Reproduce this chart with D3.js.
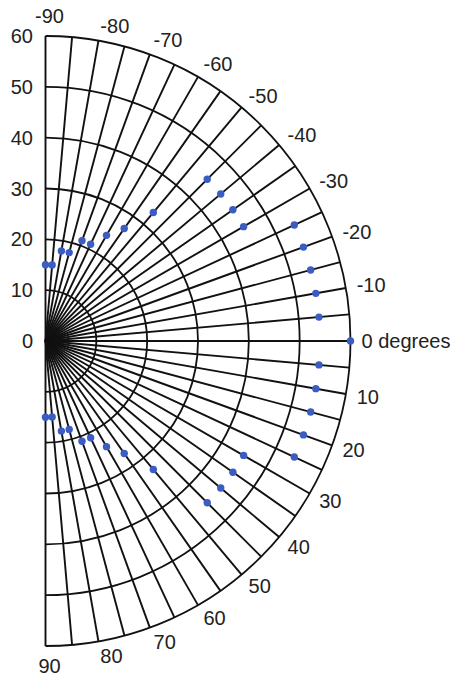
<!DOCTYPE html>
<html>
<head>
<meta charset="utf-8">
<script src="https://cdn.jsdelivr.net/npm/d3@7"></script>
<style>
  body { margin: 0; background: #fff; }
  text { font-family: "Liberation Sans", Arial, sans-serif; font-size: 20px; fill: #222; }
</style>
</head>
<body>
<svg width="456" height="677"></svg>
<script>
// point angles (degrees, 0 = right, -90 = up) and their radial values
var angles = [-90, -85, -80, -75, -70, -65, -60, -55, -50, -45, -40, -35, -30, -25, -20, -15, -10, -5,
              0, 5, 10, 15, 20, 25, 30, 35, 40, 45, 50, 55, 60, 65, 70, 75, 80, 85, 90];
var values = [15, 15, 18, 18, 21, 21, 24, 27, 33, 45, 45, 45, 45, 54, 54, 54, 54, 54,
              60, 54, 54, 54, 54, 54, 45, 45, 45, 45, 33, 27, 24, 21, 21, 18, 18, 15, 15];

var rings = [10, 20, 30, 40, 50, 60];
var radialLabels = [0, 10, 20, 30, 40, 50, 60];
var angleTicks = [-90, -80, -70, -60, -50, -40, -30, -20, -10, 0, 10, 20, 30, 40, 50, 60, 70, 80, 90];
var angleLabels = ["-90", "-80", "-70", "-60", "-50", "-40", "-30", "-20", "-10", "0 degrees",
                   "10", "20", "30", "40", "50", "60", "70", "80", "90"];

var svg = d3.select("svg"),
    cx = 45.5,
    cy = 341,
    R = 305,
    g = svg.append("g").attr("transform", "translate(" + cx + "," + cy + ")");

var r = d3.scaleLinear().domain([0, 60]).range([0, R]);
var a = d3.scaleLinear().domain([-90, 90]).range([-Math.PI / 2, Math.PI / 2]);

// spokes every 5 degrees
g.selectAll(".spoke")
    .data(d3.range(-90, 91, 5))
  .enter().append("line")
    .attr("class", "spoke")
    .attr("x1", 0).attr("y1", 0)
    .attr("x2", function(d) { return r(60) * Math.cos(a(d)); })
    .attr("y2", function(d) { return r(60) * Math.sin(a(d)); })
    .attr("stroke", "#111")
    .attr("stroke-width", 1.9);

// rings
g.selectAll(".ring")
    .data(rings)
  .enter().append("path")
    .attr("class", "ring")
    .attr("d", function(d) {
      var p = d3.path();
      p.arc(0, 0, r(d), -Math.PI / 2, Math.PI / 2);
      return p.toString();
    })
    .attr("fill", "none")
    .attr("stroke", "#111")
    .attr("stroke-width", 1.8);

// points
g.selectAll(".pt")
    .data(angles)
  .enter().append("circle")
    .attr("class", "pt")
    .attr("cx", function(d, i) { return r(values[i]) * Math.cos(a(d)); })
    .attr("cy", function(d, i) { return r(values[i]) * Math.sin(a(d)); })
    .attr("r", 3.7)
    .attr("fill", "#3b5cc0");

// radial labels on the left
g.selectAll(".rlab")
    .data(radialLabels)
  .enter().append("text")
    .attr("class", "rlab")
    .attr("x", -12.5)
    .attr("y", function(d) { return -r(d); })
    .attr("dy", "0.35em")
    .attr("text-anchor", "end")
    .text(function(d) { return d; });

// angle labels round the outside
g.selectAll(".alab")
    .data(angleTicks)
  .enter().append("text")
    .attr("class", "alab")
    .attr("x", function(d) {
      if (Math.abs(d) == 90) return 4;
      return 316 * Math.cos(a(d));
    })
    .attr("y", function(d) {
      if (Math.abs(d) == 90) return (d < 0 ? -1 : 1) * 325;
      return 320 * Math.sin(a(d));
    })
    .attr("dy", "0.35em")
    .attr("text-anchor", function(d) { return Math.abs(d) == 90 ? "middle" : "start"; })
    .text(function(d, i) { return angleLabels[i]; });
</script>
</body>
</html>
